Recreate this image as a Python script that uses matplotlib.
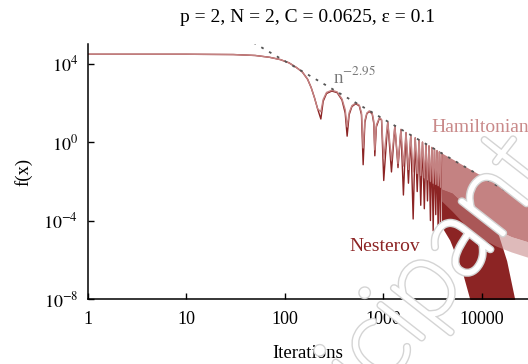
import matplotlib
matplotlib.use('Agg')
import matplotlib.pyplot as plt
import matplotlib.patheffects as pe
from matplotlib.ticker import NullLocator

plt.rcParams['font.family'] = ['Liberation Serif', 'DejaVu Serif']
plt.rcParams['mathtext.fontset'] = 'stix'

# plateau and first drop (both methods)
start_n = [1, 10, 30, 50, 70, 90, 110, 130, 150, 170, 185, 200, 215]
start_f = [3.0e4, 3.0e4, 2.9e4, 2.6e4, 2.1e4, 1.6e4, 1.1e4, 6.5e3, 3.8e3, 1.6e3, 600, 180, 50]

# oscillations: dips, shoulders and peaks
osc_n = [232, 245, 265, 300, 340, 380, 410,
         429, 450, 480, 525, 570, 600,
         624, 650, 680, 720, 770, 800,
         820, 850, 915, 960,
         1010, 1110, 1210, 1310, 1410, 1510, 1600, 1700, 1800, 1900,
         2010, 2110, 2210, 2310, 2400, 2500, 2610, 2710, 2810, 2910,
         3010, 3110, 3210, 3310, 3410, 3510, 3610, 3710, 3810, 3900]
nest_f = [15, 120, 300, 400, 330, 140, 30,
          2, 25, 65, 90, 70, 25,
          0.07, 10, 28, 36, 28, 9,
          0.2, 6, 17, 13,
          0.011, 10.5, 0.03, 6.5, 0.05, 4.3, 0.002, 3.0, 0.008, 2.2,
          1.2e-4, 1.6, 0.003, 1.25, 6e-4, 0.98, 4e-4, 0.78, 1e-3, 0.63,
          1e-4, 0.52, 3e-5, 0.43, 2e-4, 0.36, 1.5e-5, 0.31, 5e-5, 0.27]
ham_f = [35, 150, 340, 440, 360, 160, 45,
         6, 32, 72, 98, 76, 32,
         0.5, 13, 30, 39, 31, 12,
         0.4, 7.5, 18, 14,
         0.15, 11, 0.12, 6.8, 0.08, 4.5, 0.06, 3.1, 0.04, 2.3,
         0.03, 1.7, 0.025, 1.3, 0.02, 1.0, 0.015, 0.8, 0.012, 0.65,
         0.01, 0.54, 0.008, 0.45, 0.007, 0.37, 0.006, 0.32, 0.005, 0.28]

# dense part, drawn as bands (upper / lower envelope)
ham_band_n = [3900, 5000, 7000, 10000, 14000, 20000, 30000]
ham_band_hi = [0.28, 0.14, 0.053, 0.019, 0.0085, 0.003, 0.0009]
ham_band_lo = [0.004, 0.0025, 5e-4, 1e-4, 3.5e-5, 1.5e-5, 8e-6]
ham_spike_lo = [1e-3, 3e-4, 5e-5, 1.2e-5, 5e-6, 2.5e-6, 1.3e-6]

nest_band_n = [3900, 4730, 6000, 6400, 7550, 8500, 10000, 14000, 17900, 21600, 23000]
nest_band_hi = [0.27, 0.13, 0.06, 0.045, 0.025, 0.012, 3e-3, 4.3e-5, 9e-7, 1e-8, 1e-9]
nest_band_lo = [5e-5, 1e-5, 5e-7, 2e-7, 1e-8, 1e-9, 1e-9, 1e-9, 1e-9, 1e-9, 1e-9]

# reference slope n^-2.95
dash_n = [40, 30000]
dash_f = [2.0e5, 6.7e-4]

ham_color = '#c48282'
nest_color = '#8c2424'

fig = plt.figure(figsize=(5.28, 3.64), dpi=100)
ax = fig.add_axes([88 / 528, 65 / 364, 440 / 528, 255 / 364])
ax.set_xscale('log')
ax.set_yscale('log')

# Nesterov underneath
ax.plot(start_n + osc_n, start_f + nest_f, color=nest_color, lw=1.0)
ax.fill_between(nest_band_n, nest_band_lo, nest_band_hi, color=nest_color, lw=0)

# Hamiltonian on top
ax.plot(start_n + osc_n, start_f + ham_f, color=ham_color, lw=1.0)
ax.fill_between(ham_band_n, ham_spike_lo, ham_band_lo, color=ham_color, alpha=0.55, lw=0)
ax.fill_between(ham_band_n, ham_band_lo, ham_band_hi, color=ham_color, lw=0)

ax.plot(dash_n, dash_f, color='#555555', lw=1.3, ls=(0, (1.5, 3.5)), zorder=5)

ax.text(307, 1070, r'n$^{\mathrm{-2.95}}$', color='#777777', fontsize=13.5, va='baseline')
ax.text(3100, 5.4, 'Hamiltonian', color='#c98a8a', fontsize=14, va='center')
ax.text(457, 5e-6, 'Nesterov', color=nest_color, fontsize=14, va='center')

ax.set_xlim(1, 29500)
ax.set_ylim(1e-8, 1e5)
ax.set_xticks([1, 10, 100, 1000, 10000])
ax.set_xticklabels(['1', '10', '100', '1000', '10000'])
ax.set_yticks([1e-8, 1e-4, 1, 1e4])
ax.set_yticklabels([r'$10^{-8}$', r'$10^{-4}$', r'$10^{0}$', r'$10^{4}$'])
ax.xaxis.set_minor_locator(NullLocator())
ax.yaxis.set_minor_locator(NullLocator())
ax.tick_params(direction='in', length=4, width=1, labelsize=13)
ax.tick_params(axis='x', pad=9)
ax.tick_params(axis='y', pad=7)
for side in ['top', 'right']:
    ax.spines[side].set_visible(False)
for side in ['left', 'bottom']:
    ax.spines[side].set_linewidth(1.1)

ax.set_title('p = 2, N = 2, C = 0.0625, ε = 0.1', fontsize=14, pad=16)
ax.set_xlabel('Iterations', fontsize=13.5, labelpad=12)
ax.set_ylabel('f(x)', fontsize=13.5, labelpad=8)

# watermark: white strokes with a light grey rim
fig.text(0.725, 0.065, 'Participant', fontsize=78, rotation=52, color='white',
         ha='center', va='center', family='Lato', fontweight='light', zorder=10,
         path_effects=[pe.Stroke(linewidth=5, foreground='#d4d4d4'),
                       pe.Stroke(linewidth=3, foreground='white'), pe.Normal()])

fig.savefig('out.png', dpi=100)
